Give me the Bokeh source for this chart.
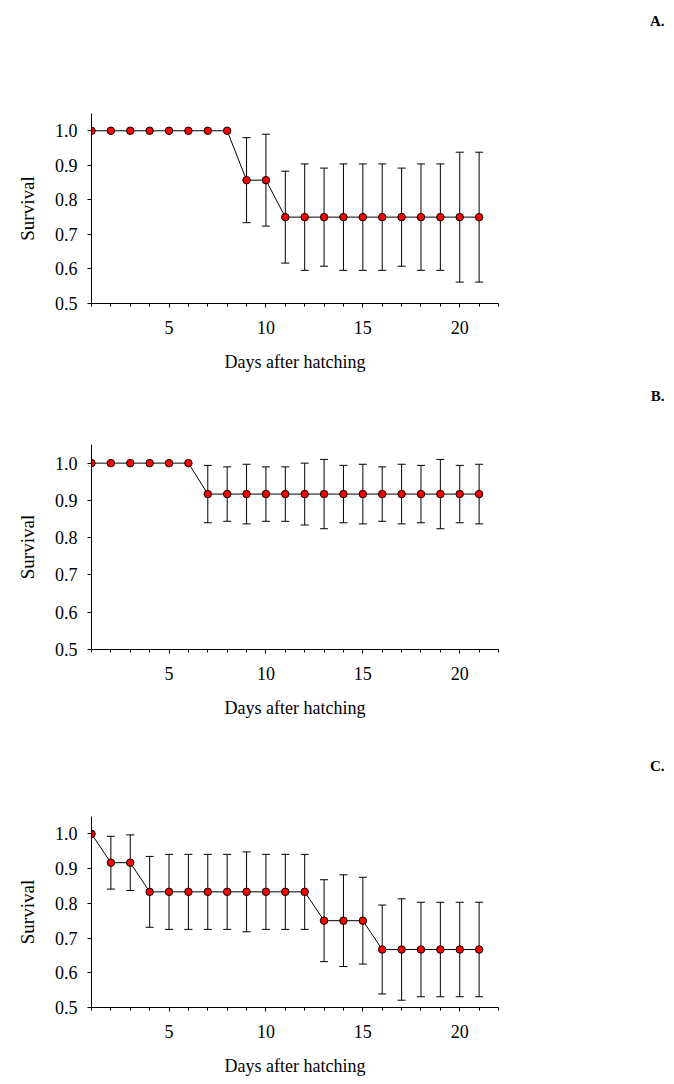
from bokeh.plotting import figure
from bokeh.layouts import column
from bokeh.models import (ColumnDataSource, Whisker, TeeHead, Range1d, Title,
                          SingleIntervalTicker, FixedTicker, PrintfTickFormatter)
from bokeh.embed import file_html
from bokeh.resources import INLINE

days = list(range(1, 22))

survival_a = [1.0] * 8 + [0.857, 0.857] + [0.75] * 11
error_a = [0] * 8 + [0.123, 0.133, 0.133, 0.154, 0.142, 0.154, 0.154, 0.154,
                     0.142, 0.154, 0.154, 0.188, 0.188]

survival_b = [1.0] * 6 + [0.917] * 15
error_b = [0] * 6 + [0.077, 0.073, 0.080, 0.073, 0.073, 0.083, 0.093, 0.077,
                     0.080, 0.073, 0.080, 0.077, 0.093, 0.077, 0.080]

survival_c = [1.0, 0.917, 0.917] + [0.833] * 9 + [0.75] * 3 + [0.667] * 6
error_c = [0, 0.076, 0.080, 0.102, 0.108, 0.108, 0.108, 0.108, 0.115, 0.108,
           0.108, 0.108, 0.118, 0.132, 0.125, 0.128, 0.146, 0.136, 0.136,
           0.136, 0.136]

y_ticks = [0.5, 0.6, 0.7, 0.8, 0.9, 1.0]
panel_labels = ["A.", "B.", "C."]
x_title = "Days after hatching"
y_title = "Survival"

FONT = "Liberation Serif"


def make_panel(surv, err, label, frame_h, b_top, b_bottom, spacer):
    p = figure(frame_width=407, frame_height=frame_h,
               min_border_left=91, min_border_right=168,
               min_border_top=b_top, min_border_bottom=b_bottom,
               x_range=Range1d(1, 22), y_range=Range1d(0.5, 1.05),
               output_backend="svg", toolbar_location=None,
               background_fill_color="white", border_fill_color="white")
    p.outline_line_color = None
    p.grid.visible = False

    # panel letter: an empty spacer title next to the frame, then the letter
    p.title = None
    sp = Title(text=" ", text_font_size="%dpx" % spacer, standoff=0,
               text_color="white")
    p.add_layout(sp, "above")
    lt = Title(text=label, standoff=0, align="right", offset=-166,
               text_font=FONT, text_font_style="bold", text_font_size="15px",
               text_color="black")
    p.add_layout(lt, "above")

    ex = [d for d, e in zip(days, err) if e > 0]
    eu = [s + e for s, e in zip(surv, err) if e > 0]
    el = [s - e for s, e in zip(surv, err) if e > 0]
    esrc = ColumnDataSource(dict(x=ex, upper=eu, lower=el))
    w = Whisker(base="x", upper="upper", lower="lower", source=esrc,
                line_color="black", line_width=1,
                upper_head=TeeHead(size=8, line_color="black", line_width=1),
                lower_head=TeeHead(size=8, line_color="black", line_width=1))
    p.add_layout(w)

    p.line(days, surv, line_color="black", line_width=1)
    p.scatter(days, surv, size=7.5, fill_color="red", line_color="black",
              line_width=1)

    xa = p.xaxis[0]
    xa.ticker = SingleIntervalTicker(interval=5, num_minor_ticks=5)
    xa.axis_label = x_title
    xa.axis_label_text_font = FONT
    xa.axis_label_text_font_style = "normal"
    xa.axis_label_text_font_size = "18px"
    xa.axis_label_text_color = "black"
    xa.axis_label_standoff = 15
    xa.major_label_text_font = FONT
    xa.major_label_text_font_size = "18px"
    xa.major_label_text_color = "black"
    xa.major_label_standoff = 13
    xa.major_tick_in = 0
    xa.major_tick_out = 4
    xa.minor_tick_in = 0
    xa.minor_tick_out = 3
    xa.axis_line_color = "black"

    ya = p.yaxis[0]
    ya.ticker = FixedTicker(ticks=y_ticks)
    ya.formatter = PrintfTickFormatter(format="%.1f")
    ya.axis_label = y_title
    ya.axis_label_text_font = FONT
    ya.axis_label_text_font_style = "normal"
    ya.axis_label_text_font_size = "19px"
    ya.axis_label_text_color = "black"
    ya.axis_label_standoff = 14
    ya.major_label_text_font = FONT
    ya.major_label_text_font_size = "18px"
    ya.major_label_text_color = "black"
    ya.major_label_standoff = 10
    ya.major_tick_in = 0
    ya.major_tick_out = 4
    ya.minor_tick_out = 0
    ya.axis_line_color = "black"
    return p


pa = make_panel(survival_a, error_a, panel_labels[0], 190, 113, 75, 74)
pb = make_panel(survival_b, error_b, panel_labels[1], 205, 66, 99, 35)
pc = make_panel(survival_c, error_c, panel_labels[2], 191, 68, 69, 37)

layout = column(pa, pb, pc, spacing=0)
open("out.html", "w").write(file_html(layout, INLINE))
